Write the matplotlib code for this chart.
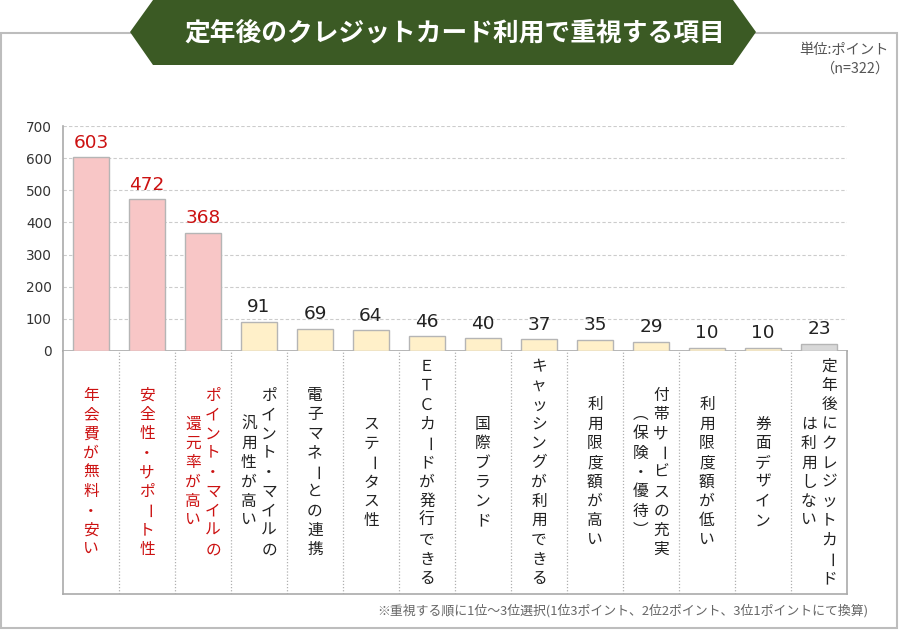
import matplotlib
matplotlib.use("Agg")
import matplotlib.pyplot as plt
from matplotlib.patches import Polygon, Rectangle
from matplotlib.transforms import offset_copy

plt.rcParams['font.family'] = ['Noto Sans CJK JP', 'DejaVu Sans']

# ---- data ----
categories = [
    "年会費が無料・安い",
    "安全性・サポート性",
    "ポイント・マイルの\n還元率が高い",
    "ポイント・マイルの\n汎用性が高い",
    "電子マネーとの連携",
    "ステータス性",
    "ＥＴＣカードが発行できる",
    "国際ブランド",
    "キャッシングが利用できる",
    "利用限度額が高い",
    "付帯サービスの充実\n︵保険・優待︶",
    "利用限度額が低い",
    "券面デザイン",
    "定年後にクレジットカード\nは利用しない",
]
values = [603, 472, 368, 91, 69, 64, 46, 40, 37, 35, 29, 10, 10, 23]
groups = ["top", "top", "top", "mid", "mid", "mid", "mid", "mid", "mid", "mid", "mid", "mid", "mid", "none"]
yticks = [0, 100, 200, 300, 400, 500, 600, 700]

title = "定年後のクレジットカード利用で重視する項目"
unit_text = "単位:ポイント\n（n=322）"
footnote = "※重視する順に1位～3位選択(1位3ポイント、2位2ポイント、3位1ポイントにて換算)"

fill_colors = {"top": "#f8c6c6", "mid": "#fff0c9", "none": "#d8d8d8"}
text_colors = {"top": "#cc1111", "mid": "#222222", "none": "#222222"}

W, H = 900, 630
fig = plt.figure(figsize=(9, 6.3), dpi=100)
fig.patch.set_facecolor("white")

def fx(px):
    return px / W

def fy(py):
    return 1 - py / H

# outer frame
fig.patches.append(Rectangle((fx(1), fy(628)), fx(896), (627 - 32) / H,
                             transform=fig.transFigure, fill=False,
                             edgecolor="#bdbdbd", linewidth=1.5, zorder=0))

# title banner
banner = [(130, 32), (153, 0), (733, 0), (756, 32), (733, 65), (153, 65)]
fig.patches.append(Polygon([(fx(x), fy(y)) for x, y in banner], closed=True,
                           transform=fig.transFigure, facecolor="#3b5a24",
                           edgecolor="none", zorder=1))
fig.text(fx(455), fy(33), title, color="white", fontsize=18.5, fontweight="bold",
         ha="center", va="center", zorder=2)

fig.text(fx(889), fy(59), unit_text, color="#555555", fontsize=10.3,
         ha="right", va="center", linespacing=1.45, multialignment="right")
fig.text(fx(868), fy(611), footnote, color="#666666", fontsize=9.3,
         ha="right", va="center")

# main axes
left, right, top, base, band_bottom = 63, 847, 126, 351, 594
ax = fig.add_axes([fx(left), fy(base), (right - left) / W, (base - top) / H])
n = len(categories)
xs = list(range(n))
bars = ax.bar(xs, values, width=0.63,
              color=[fill_colors[g] for g in groups],
              edgecolor="#b5b5b5", linewidth=1.0, zorder=3)
ax.set_xlim(-0.5, n - 0.5)
ax.set_ylim(0, 700)
ax.set_yticks(yticks)
ax.set_xticks([])
ax.tick_params(axis="y", length=0, pad=8, labelsize=9.8, labelcolor="#333333")
for lbl in ax.get_yticklabels():
    lbl.set_fontfamily("DejaVu Sans")
for s in ["top", "right"]:
    ax.spines[s].set_visible(False)
for s in ["left", "bottom"]:
    ax.spines[s].set_color("#aaaaaa")
    ax.spines[s].set_linewidth(1.2)
ax.yaxis.grid(True, linestyle=(0, (3, 2)), color="#cccccc", linewidth=0.8, zorder=0)
ax.set_axisbelow(True)
for x, v, g in zip(xs, values, groups):
    ax.annotate(str(v), (x, v), xytext=(0, 4), textcoords="offset points",
                ha="center", va="bottom", fontsize=13.3, color=text_colors[g],
                family="DejaVu Sans")

# category band
bx = fig.add_axes([fx(left), fy(band_bottom), (right - left) / W, (band_bottom - base) / H])
bx.set_xlim(-0.5, n - 0.5)
bx.set_ylim(0, 1)
bx.set_xticks([])
bx.set_yticks([])
bx.spines["top"].set_visible(False)
for s in ["left", "right", "bottom"]:
    bx.spines[s].set_color("#aaaaaa")
    bx.spines[s].set_linewidth(1.2)
for i in range(n - 1):
    bx.axvline(i + 0.5, color="#b0b0b0", linestyle=(0, (1, 1.5)), linewidth=0.9)

pitch = 13.9   # points between characters
colgap = 14.5  # points between columns
rotated = {"ー": -90}
for i, (lab, g) in enumerate(zip(categories, groups)):
    cols = lab.split("\n")
    m = len(cols)
    for j, col in enumerate(cols):
        dx = ((m - 1) / 2 - j) * colgap
        k = len(col)
        for c_i, ch in enumerate(col):
            dy = -(c_i - (k - 1) / 2) * pitch
            tr = offset_copy(bx.transData, fig=fig, x=dx, y=dy, units="points")
            bx.text(i, 0.5, ch, transform=tr, ha="center", va="center",
                    fontsize=11.3, color=text_colors[g], rotation=rotated.get(ch, 0))

fig.savefig("out.png", dpi=100, facecolor="white")
